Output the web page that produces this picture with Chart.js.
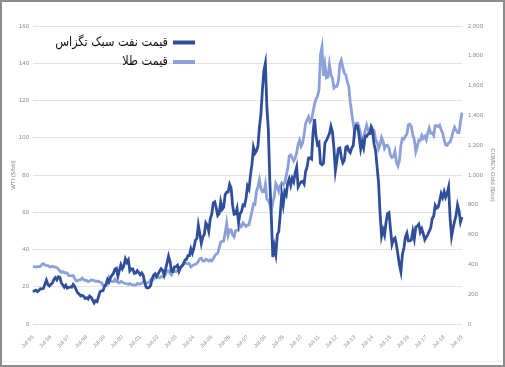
<!DOCTYPE html>
<html>
<head>
<meta charset="utf-8">
<script src="https://cdn.jsdelivr.net/npm/chart.js@4.4.1/dist/chart.umd.min.js"></script>
<style>
html,body{margin:0;padding:0;background:#fff;}
canvas{display:block;}
</style>
</head>
<body>
<canvas id="c" width="505" height="367"></canvas>
<script>
// Series names (legend)
const seriesNames = ['قیمت نفت سبک تگزاس', 'قیمت طلا'];
// Tick labels shown on x axis
const xTickLabels = ['Jul-95','Jul-96','Jul-97','Jul-98','Jul-99','Jul-00','Jul-01','Jul-02','Jul-03','Jul-04','Jul-05','Jul-06','Jul-07','Jul-08','Jul-09','Jul-10','Jul-11','Jul-12','Jul-13','Jul-14','Jul-15','Jul-16','Jul-17','Jul-18','Jul-19'];
const leftTicks = [0,20,40,60,80,100,120,140,160];
const rightTicks = [0,200,400,600,800,1000,1200,1400,1600,1800,2000];

// Monthly WTI ($/bbl), Jul-95 .. Jul-19
const wti = [
17.3,17.9,18.2,17.4,18.0,19.0,
18.9,19.1,21.3,23.5,21.2,20.4,21.3,21.9,23.9,24.9,23.7,25.4,
25.1,22.2,21.0,19.7,20.8,19.2,19.6,19.9,19.8,21.3,20.2,18.3,
16.7,16.1,15.0,15.4,14.9,13.7,14.1,13.4,15.0,14.4,12.9,11.3,
12.5,12.0,14.7,17.3,17.8,17.9,20.1,21.3,23.9,22.6,25.0,26.1,
27.2,29.4,29.9,25.7,28.8,31.8,29.7,31.3,35.0,33.1,34.4,28.5,
29.6,29.6,27.2,27.4,28.6,27.6,26.4,27.4,26.2,22.2,19.6,19.3,
19.7,20.7,24.4,26.3,27.0,25.5,26.9,28.4,29.7,28.9,26.3,29.4,
32.9,36.5,33.6,28.3,28.1,30.7,30.8,31.6,28.3,30.3,31.1,32.1,
34.3,34.7,36.7,36.7,40.3,38.0,40.7,44.9,45.9,53.1,48.5,43.3,
46.8,48.0,54.3,53.0,49.8,56.4,59.0,65.0,65.6,62.4,58.3,59.4,
65.5,61.6,62.7,69.4,70.8,70.9,75.0,73.0,63.8,58.9,59.1,62.0,
54.5,59.3,60.4,63.9,63.5,67.5,74.1,72.4,79.9,85.8,94.8,91.7,
93.0,95.4,105.5,112.6,125.4,136.0,140.0,116.7,104.1,76.6,57.3,36.0,
41.7,37.5,47.9,49.7,59.0,69.6,64.2,71.1,69.4,75.7,78.0,74.5,
78.3,76.4,81.2,84.3,73.7,75.3,76.3,76.6,75.2,81.9,84.3,89.2,
89.2,88.6,102.9,110.0,100.9,96.3,97.3,86.3,85.5,86.3,97.2,98.6,
100.3,102.2,106.2,103.3,94.7,82.3,87.9,94.1,94.5,89.5,86.5,87.9,
94.8,95.3,92.9,92.0,94.5,95.8,104.6,106.6,106.3,100.5,93.9,97.6,
94.6,100.8,100.8,102.1,102.2,105.8,103.6,96.5,93.2,84.4,75.8,59.3,
47.2,50.6,47.8,54.5,59.3,59.8,50.9,42.9,45.5,46.2,42.4,37.2,
31.7,28.0,37.5,40.8,46.7,48.8,44.7,44.7,45.2,49.8,45.7,52.0,
52.5,53.5,49.3,51.1,48.5,45.2,46.6,48.0,49.8,51.6,56.6,57.9,
63.7,62.2,62.7,66.3,70.0,67.9,71.0,68.1,70.2,73.5,57.0,47.0,
51.4,55.0,58.2,63.9,60.8,54.7,57.4
];

// Monthly COMEX gold ($/oz), Jul-95 .. Jul-19
const gold = [
387,383,383,383,386,387,
400,405,396,393,392,385,383,387,383,381,378,369,
355,347,352,344,344,341,324,324,323,325,306,289,
289,297,296,308,299,292,293,284,289,296,294,291,
287,287,286,282,277,261,256,257,265,311,293,284,
284,300,286,280,275,286,282,275,273,270,266,272,
266,262,263,261,272,270,268,273,283,283,276,276,
282,296,294,302,314,321,314,310,319,317,319,333,
357,359,340,329,355,356,351,360,379,379,389,407,
414,405,406,404,383,392,398,401,406,420,439,442,
424,423,434,429,422,430,424,438,456,470,476,510,
549,555,557,610,676,596,633,632,598,585,627,629,
631,665,655,679,667,655,665,665,712,754,806,803,
889,922,968,909,888,889,939,839,829,806,760,816,
858,943,924,890,928,946,934,949,996,1043,1127,1134,
1117,1095,1113,1148,1205,1233,1193,1215,1271,1343,1370,1391,
1356,1372,1424,1474,1510,1529,1572,1810,1860,1665,1739,1652,
1656,1742,1673,1650,1585,1596,1594,1626,1744,1770,1722,1684,
1671,1627,1593,1487,1414,1343,1286,1347,1349,1316,1275,1222,
1244,1300,1336,1299,1287,1279,1311,1296,1239,1222,1176,1202,
1251,1227,1179,1198,1199,1182,1131,1117,1125,1159,1086,1060,
1097,1200,1246,1242,1260,1276,1337,1341,1326,1267,1238,1157,
1192,1234,1231,1266,1246,1260,1236,1283,1315,1280,1283,1265,
1331,1331,1325,1335,1303,1282,1238,1202,1199,1215,1221,1250,
1291,1320,1301,1285,1284,1359,1420
];

// Month categories
const monthNames = ['Jan','Feb','Mar','Apr','May','Jun','Jul','Aug','Sep','Oct','Nov','Dec'];
const categories = [];
for (let y = 1995; y <= 2019; y++) {
  for (let m = 0; m < 12; m++) {
    if (y === 1995 && m < 6) continue;
    if (y === 2019 && m > 6) continue;
    categories.push(monthNames[m] + '-' + String(y % 100).padStart(2, '0'));
  }
}

const darkBlue = '#2f4f9b';
const lightBlue = '#8da1d9';
const tickColor = '#8a8a8a';

const legendPlugin = {
  id: 'rtlLegend',
  afterDraw(chart) {
    const ctx = chart.ctx;
    const rows = [42.5, 62];
    chart.data.datasets.forEach((ds, i) => {
      const y = rows[i];
      ctx.save();
      ctx.fillStyle = ds.borderColor;
      ctx.fillRect(173, y - 2, 22, 4);
      ctx.fillStyle = '#111';
      ctx.font = '13px "DejaVu Sans", sans-serif';
      ctx.direction = 'rtl';
      ctx.textAlign = 'right';
      ctx.textBaseline = 'middle';
      ctx.translate(168, y);
      ctx.scale(0.87, 1);
      ctx.fillText(ds.label, 0, 0);
      ctx.restore();
    });
  }
};

const framePlugin = {
  id: 'frame',
  beforeDraw(chart) {
    const ctx = chart.ctx;
    ctx.save();
    ctx.fillStyle = '#fff';
    ctx.fillRect(0, 0, chart.width, chart.height);
    ctx.restore();
  },
  afterDraw(chart) {
    const ctx = chart.ctx;
    ctx.save();
    ctx.strokeStyle = '#ececec';
    ctx.lineWidth = 1;
    ctx.beginPath();
    ctx.moveTo(2, 361.5);
    ctx.lineTo(502, 361.5);
    ctx.stroke();
    ctx.strokeStyle = '#8c8c8c';
    ctx.lineWidth = 2;
    ctx.strokeRect(1, 1, chart.width - 2, chart.height - 2);
    ctx.restore();
  }
};

new Chart(document.getElementById('c'), {
  type: 'line',
  data: {
    labels: categories,
    datasets: [
      { label: seriesNames[0], data: wti, yAxisID: 'y', borderColor: darkBlue, backgroundColor: darkBlue, borderWidth: 2.8, pointRadius: 0, tension: 0 },
      { label: seriesNames[1], data: gold, yAxisID: 'y1', borderColor: lightBlue, backgroundColor: lightBlue, borderWidth: 2.8, pointRadius: 0, tension: 0 }
    ]
  },
  options: {
    responsive: false,
    animation: false,
    layout: { padding: { top: 26, left: 0, right: 0, bottom: 0 } },
    plugins: { legend: { display: false }, tooltip: { enabled: false } },
    scales: {
      x: {
        type: 'category',
        offset: false,
        grid: { display: false },
        border: { display: false },
        ticks: {
          autoSkip: false,
          maxRotation: 45,
          minRotation: 45,
          padding: 2,
          color: tickColor,
          font: { size: 5.5, family: 'Liberation Sans, sans-serif' },
          callback(v, i) {
            const l = categories[i];
            return xTickLabels.includes(l) ? l : null;
          }
        },
        afterFit(s) { s.height = 43; }
      },
      y: {
        position: 'left',
        min: 0, max: 160,
        afterBuildTicks(s) { s.ticks = leftTicks.map(v => ({ value: v })); },
        grid: { color: '#e2e2e2', lineWidth: 1, drawTicks: false },
        border: { display: false },
        ticks: { color: tickColor, padding: 4, font: { size: 6, family: 'Liberation Sans, sans-serif' } },
        title: { display: true, text: 'WTI ($/bbl)', color: tickColor, padding: { top: 10, bottom: 0 }, font: { size: 6, family: 'Liberation Sans, sans-serif' } },
        afterFit(s) { s.width = 33; }
      },
      y1: {
        position: 'right',
        min: 0, max: 2000,
        afterBuildTicks(s) { s.ticks = rightTicks.map(v => ({ value: v })); },
        grid: { display: false, drawTicks: false },
        border: { display: false },
        ticks: {
          color: tickColor, padding: 6,
          font: { size: 6, family: 'Liberation Sans, sans-serif' },
          callback(v) { return v.toLocaleString('en-US'); }
        },
        title: { display: true, text: 'COMEX Gold ($/oz)', color: tickColor, padding: { top: 9, bottom: 0 }, font: { size: 6, family: 'Liberation Sans, sans-serif' } },
        afterFit(s) { s.width = 43; }
      }
    }
  },
  plugins: [framePlugin, legendPlugin]
});
</script>
</body>
</html>
